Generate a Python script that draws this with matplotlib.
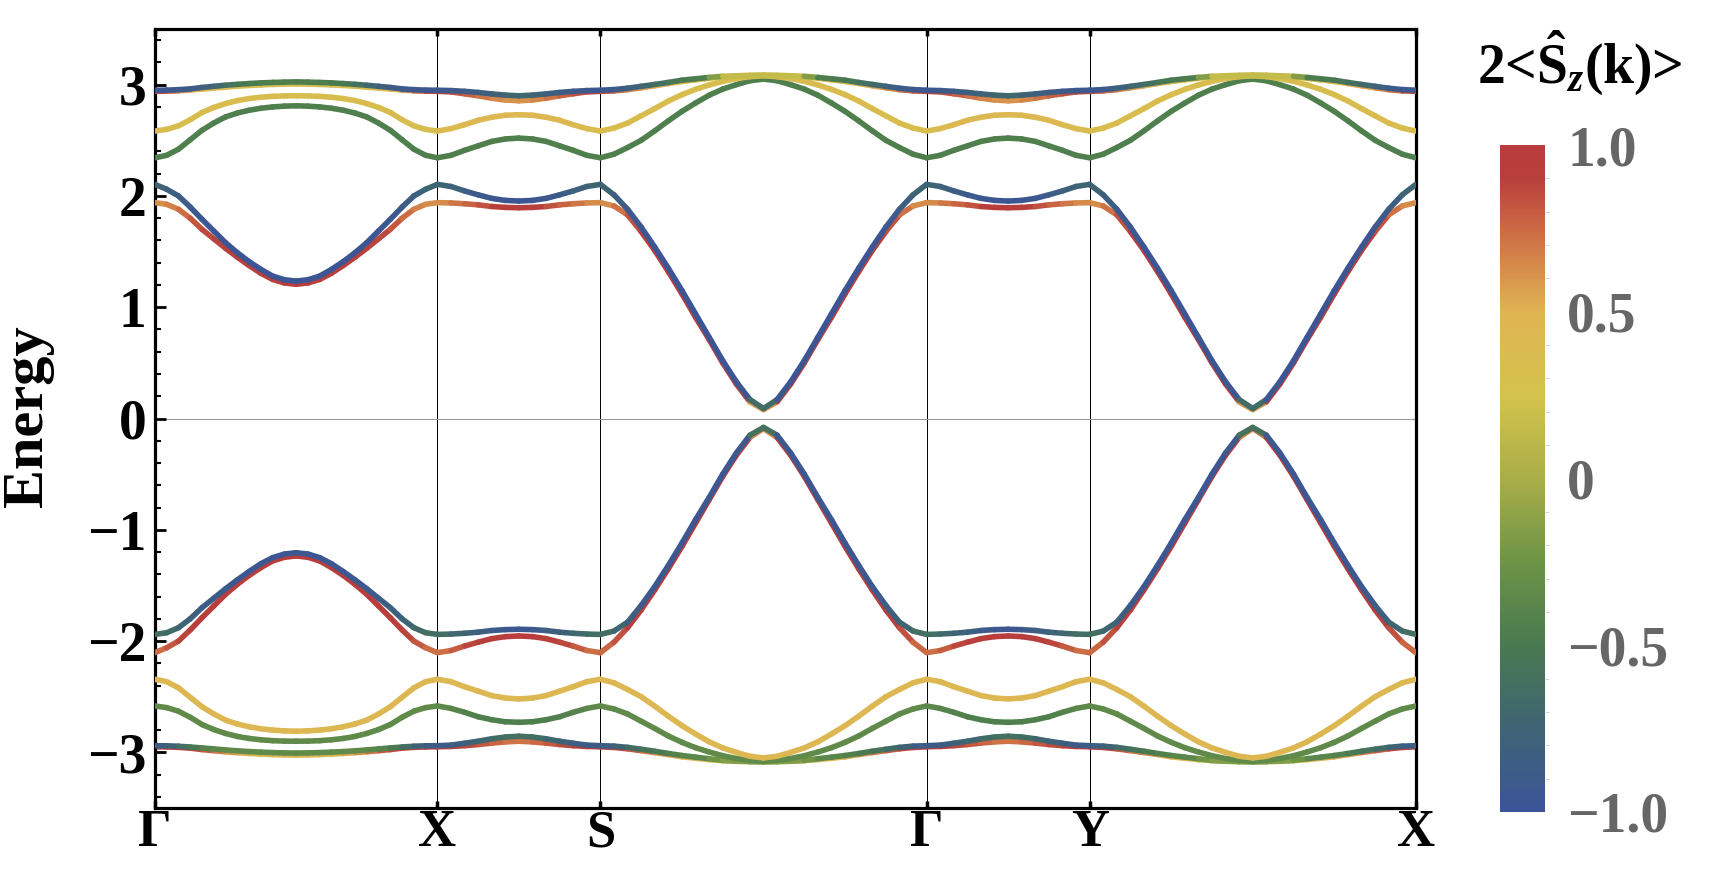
import numpy as np
import matplotlib
matplotlib.use('Agg')
import matplotlib.pyplot as plt
from matplotlib.collections import LineCollection
from matplotlib.colors import LinearSegmentedColormap, Normalize
from matplotlib.ticker import MultipleLocator, FixedLocator
import matplotlib.cm as cm

plt.rcParams['font.family'] = ['Liberation Serif', 'DejaVu Serif']
plt.rcParams['font.weight'] = 'bold'
plt.rcParams['mathtext.fontset'] = 'custom'
plt.rcParams['mathtext.rm'] = 'Liberation Serif:bold'
plt.rcParams['mathtext.it'] = 'Liberation Serif:bold:italic'
plt.rcParams['mathtext.bf'] = 'Liberation Serif:bold'

# ---------------------------
# path through the zone
# ---------------------------
k_labels = ['Γ', 'X', 'S', 'Γ', 'Y', 'X']
seg_len = [1.0, 0.577, 1.155, 0.577, 1.155]

# upper six bands, rows A..F (top to bottom at Γ)
# energy and 2<Sz> read off the picture along each segment
# Γ-X, 25 points
gx_energy = [
    [2.95, 2.951, 2.955, 2.962, 2.975, 2.985, 2.995, 3.003, 3.01, 3.016, 3.02, 3.023, 3.025,
     3.023, 3.02, 3.016, 3.01, 3.003, 2.995, 2.985, 2.975, 2.962, 2.955, 2.951, 2.95],
    [2.94, 2.941, 2.945, 2.952, 2.96, 2.969, 2.978, 2.986, 2.993, 2.998, 3.002, 3.005, 3.006,
     3.005, 3.002, 2.998, 2.993, 2.986, 2.978, 2.969, 2.96, 2.952, 2.945, 2.941, 2.94],
    [2.583, 2.598, 2.63, 2.685, 2.75, 2.795, 2.83, 2.857, 2.875, 2.887, 2.895, 2.899, 2.90,
     2.899, 2.895, 2.887, 2.875, 2.857, 2.83, 2.795, 2.75, 2.685, 2.63, 2.598, 2.583],
    [2.343, 2.365, 2.42, 2.505, 2.59, 2.655, 2.71, 2.745, 2.77, 2.788, 2.80, 2.807, 2.81,
     2.807, 2.80, 2.788, 2.77, 2.745, 2.71, 2.655, 2.59, 2.505, 2.42, 2.365, 2.343],
    [2.104, 2.06, 2.0, 1.90, 1.79, 1.685, 1.58, 1.49, 1.41, 1.34, 1.28, 1.247, 1.235,
     1.247, 1.28, 1.34, 1.41, 1.49, 1.58, 1.685, 1.79, 1.90, 2.0, 2.06, 2.104],
    [1.94, 1.925, 1.88, 1.80, 1.70, 1.615, 1.53, 1.45, 1.375, 1.305, 1.25, 1.218, 1.206,
     1.218, 1.25, 1.305, 1.375, 1.45, 1.53, 1.615, 1.70, 1.80, 1.88, 1.925, 1.94],
]
gx_spin = [
    [-0.95, -0.94, -0.92, -0.89, -0.85, -0.76, -0.65, -0.56, -0.5, -0.47, -0.45, -0.45, -0.45,
     -0.45, -0.45, -0.47, -0.5, -0.56, -0.65, -0.76, -0.85, -0.89, -0.92, -0.94, -0.95],
    [0.9, 0.82, 0.7, 0.57, 0.45, 0.38, 0.35, 0.35, 0.35, 0.35, 0.35, 0.35, 0.35,
     0.35, 0.35, 0.35, 0.35, 0.35, 0.35, 0.38, 0.45, 0.57, 0.7, 0.82, 0.9],
    [0.35] * 25,
    [-0.45] * 25,
    [-0.7, -0.78, -0.85, -0.91, -0.95, -0.96, -0.97, -0.97, -0.97, -0.97, -0.97, -0.97, -0.97,
     -0.97, -0.97, -0.97, -0.97, -0.97, -0.97, -0.96, -0.95, -0.91, -0.85, -0.78, -0.7],
    [0.6, 0.64, 0.7, 0.78, 0.85, 0.88, 0.9, 0.93, 0.95, 0.95, 0.95, 0.95, 0.95,
     0.95, 0.95, 0.95, 0.95, 0.93, 0.9, 0.88, 0.85, 0.78, 0.7, 0.64, 0.6],
]

# X-S, 13 points (same picture again on Γ-Y)
xs_energy = [
    [2.95, 2.947, 2.94, 2.93, 2.917, 2.906, 2.90, 2.906, 2.917, 2.93, 2.94, 2.947, 2.95],
    [2.94, 2.935, 2.918, 2.90, 2.878, 2.862, 2.855, 2.862, 2.878, 2.90, 2.918, 2.935, 2.94],
    [2.583, 2.605, 2.64, 2.68, 2.707, 2.725, 2.73, 2.725, 2.707, 2.68, 2.64, 2.605, 2.583],
    [2.343, 2.365, 2.41, 2.45, 2.49, 2.512, 2.52, 2.512, 2.49, 2.45, 2.41, 2.365, 2.343],
    [2.104, 2.085, 2.045, 2.01, 1.978, 1.96, 1.954, 1.96, 1.978, 2.01, 2.045, 2.085, 2.104],
    [1.94, 1.937, 1.93, 1.92, 1.905, 1.897, 1.894, 1.897, 1.905, 1.92, 1.93, 1.937, 1.94],
]
xs_spin = [
    [-0.95, -0.92, -0.88, -0.85, -0.79, -0.73, -0.7, -0.73, -0.79, -0.85, -0.88, -0.92, -0.95],
    [0.9, 0.87, 0.81, 0.75, 0.68, 0.62, 0.6, 0.62, 0.68, 0.75, 0.81, 0.87, 0.9],
    [0.35, 0.38, 0.42, 0.45, 0.45, 0.45, 0.45, 0.45, 0.45, 0.45, 0.42, 0.38, 0.35],
    [-0.45] * 13,
    [-0.7, -0.76, -0.84, -0.9, -0.94, -0.96, -0.97, -0.96, -0.94, -0.9, -0.84, -0.76, -0.7],
    [0.6, 0.67, 0.74, 0.8, 0.87, 0.93, 0.95, 0.93, 0.87, 0.8, 0.74, 0.67, 0.6],
]

# S-Γ, 25 points (same picture again on Y-X)
sg_energy = [
    [2.95, 2.956, 2.968, 2.985, 3.002, 3.02, 3.04, 3.053, 3.065, 3.075, 3.08, 3.084, 3.086,
     3.084, 3.08, 3.075, 3.065, 3.053, 3.04, 3.02, 3.002, 2.985, 2.968, 2.956, 2.95],
    [2.94, 2.944, 2.955, 2.972, 2.99, 3.01, 3.028, 3.043, 3.057, 3.07, 3.076, 3.081, 3.083,
     3.081, 3.076, 3.07, 3.057, 3.043, 3.028, 3.01, 2.99, 2.972, 2.955, 2.944, 2.94],
    [2.583, 2.61, 2.655, 2.72, 2.785, 2.853, 2.91, 2.958, 2.997, 3.03, 3.055, 3.072, 3.08,
     3.072, 3.055, 3.03, 2.997, 2.958, 2.91, 2.853, 2.785, 2.72, 2.655, 2.61, 2.583],
    [2.343, 2.375, 2.435, 2.50, 2.585, 2.675, 2.76, 2.835, 2.905, 2.96, 3.0, 3.035, 3.05,
     3.035, 3.0, 2.96, 2.905, 2.835, 2.76, 2.675, 2.585, 2.50, 2.435, 2.375, 2.343],
    [2.104, 2.01, 1.88, 1.72, 1.54, 1.35, 1.15, 0.94, 0.73, 0.52, 0.33, 0.17, 0.09,
     0.17, 0.33, 0.52, 0.73, 0.94, 1.15, 1.35, 1.54, 1.72, 1.88, 2.01, 2.104],
    [1.94, 1.91, 1.83, 1.68, 1.51, 1.32, 1.12, 0.91, 0.71, 0.50, 0.31, 0.15, 0.08,
     0.15, 0.31, 0.50, 0.71, 0.91, 1.12, 1.32, 1.51, 1.68, 1.83, 1.91, 1.94],
]
sg_spin = [
    [-0.95, -0.92, -0.85, -0.75, -0.65, -0.57, -0.5, -0.47, -0.45, 0.15, 0.15, 0.15, 0.15,
     0.15, 0.15, 0.15, -0.45, -0.47, -0.5, -0.57, -0.65, -0.75, -0.85, -0.92, -0.95],
    [0.9, 0.8, 0.7, 0.6, 0.53, 0.47, 0.4, 0.37, 0.35, 0.15, 0.15, 0.15, 0.15,
     0.15, 0.15, 0.15, 0.35, 0.37, 0.4, 0.47, 0.53, 0.6, 0.7, 0.8, 0.9],
    [0.35] * 25,
    [-0.45] * 25,
    [-0.7, -0.8, -0.88, -0.95, -0.97, -0.97, -0.97, -0.97, -0.97, -0.97, -0.97, -0.92, -0.4,
     -0.92, -0.97, -0.97, -0.97, -0.97, -0.97, -0.97, -0.97, -0.95, -0.88, -0.8, -0.7],
    [0.6, 0.68, 0.76, 0.9, 0.93, 0.95, 0.95, 0.95, 0.95, 0.95, 0.95, 0.9, 0.3,
     0.9, 0.95, 0.95, 0.95, 0.95, 0.95, 0.95, 0.93, 0.9, 0.76, 0.68, 0.6],
]

# colour scale of 2<Sz> (-1 .. 1), sampled from the bar
cbar_colors = ['#3c5498', '#3e6474', '#497a50', '#6d9446', '#a9ae48',
               '#d3c34c', '#e0b452', '#cc6a44', '#b8403c', '#b83c3c']
cbar_stops = [0.0, 0.125, 0.25, 0.375, 0.5, 0.625, 0.75, 0.875, 0.95, 1.0]
cbar_ticks = [-1.0, -0.5, 0.0, 0.5, 1.0]
cbar_ticklabels = ['\u22121.0', '\u22120.5', '0', '0.5', '1.0']

cmap = LinearSegmentedColormap.from_list('spin', list(zip(cbar_stops, cbar_colors)))
norm = Normalize(-1, 1)

# which table goes on which segment of the path
seg_energy = [gx_energy, xs_energy, sg_energy, xs_energy, sg_energy]
seg_spin = [gx_spin, xs_spin, sg_spin, xs_spin, sg_spin]
k_nodes = np.concatenate([[0], np.cumsum(seg_len)])

# join segments into whole bands
bands_k, bands_e, bands_s = [], [], []
for b in range(6):
    kk, ee, ss = [], [], []
    for j in range(5):
        n = len(seg_energy[j][b])
        kk.extend(np.linspace(k_nodes[j], k_nodes[j + 1], n))
        ee.extend(seg_energy[j][b])
        ss.extend(seg_spin[j][b])
    bands_k.append(np.array(kk))
    bands_e.append(np.array(ee))
    bands_s.append(np.array(ss))

fig = plt.figure(figsize=(17.1, 8.82), dpi=100)
ax = fig.add_axes([0.0906, 0.0839, 0.7374, 0.8832])

# reference lines
for kn in k_nodes[1:-1]:
    ax.axvline(kn, color='black', lw=0.7, zorder=1)
ax.axhline(0, color='#999999', lw=0.8, zorder=1)


def draw_band(k, e, s, z):
    pts = np.column_stack([k, e])
    segs = np.stack([pts[:-1], pts[1:]], axis=1)
    lc = LineCollection(segs, cmap=cmap, norm=norm, linewidths=4.0,
                        capstyle='round', joinstyle='round', zorder=z)
    lc.set_array(0.5 * (s[:-1] + s[1:]))
    ax.add_collection(lc)


# lower bands are the mirror of the upper ones (E -> -E, spin flipped)
# drawn from lowest energy to highest
z = 2
for b in range(6):
    draw_band(bands_k[b], -bands_e[b], -bands_s[b], z)
    z += 1
for b in range(5, -1, -1):
    draw_band(bands_k[b], bands_e[b], bands_s[b], z)
    z += 1

ax.set_xlim(k_nodes[0], k_nodes[-1])
ax.set_ylim(-3.5, 3.5)

ax.xaxis.set_major_locator(FixedLocator(k_nodes))
ax.set_xticklabels(k_labels)
ax.yaxis.set_major_locator(MultipleLocator(1))
ax.yaxis.set_minor_locator(MultipleLocator(0.2))

ax.tick_params(axis='x', direction='in', length=5, width=2.5, top=True,
               labelsize=38, pad=1)
ax.tick_params(axis='y', which='major', direction='in', length=8, width=2,
               labelsize=40, pad=6)
ax.tick_params(axis='y', which='minor', direction='in', length=4, width=1.5)
for sp in ax.spines.values():
    sp.set_linewidth(2.3)

fig.text(0.0165, 1 - 416 / 882, 'Energy', rotation=90, ha='center', va='center',
         fontsize=42, fontweight='bold')

# colour bar
cax = fig.add_axes([0.8772, 0.0794, 0.0263, 0.7562])
sm = cm.ScalarMappable(norm=norm, cmap=cmap)
cb = fig.colorbar(sm, cax=cax, ticks=cbar_ticks)
cb.outline.set_visible(False)
cb.ax.set_yticklabels(cbar_ticklabels)
cb.ax.yaxis.set_minor_locator(MultipleLocator(0.1))
cb.ax.tick_params(which='major', length=0, labelsize=40, labelcolor='#666666', pad=16)
cb.ax.tick_params(which='minor', length=3, width=0.6, color='#cccccc')

fig.text(1580 / 1710, 1 - 63 / 882, r'2<$\hat{\mathrm{S}}_z$(k)>', ha='center',
         va='center', fontsize=40, fontweight='bold')

fig.savefig('out.png', dpi=100)
